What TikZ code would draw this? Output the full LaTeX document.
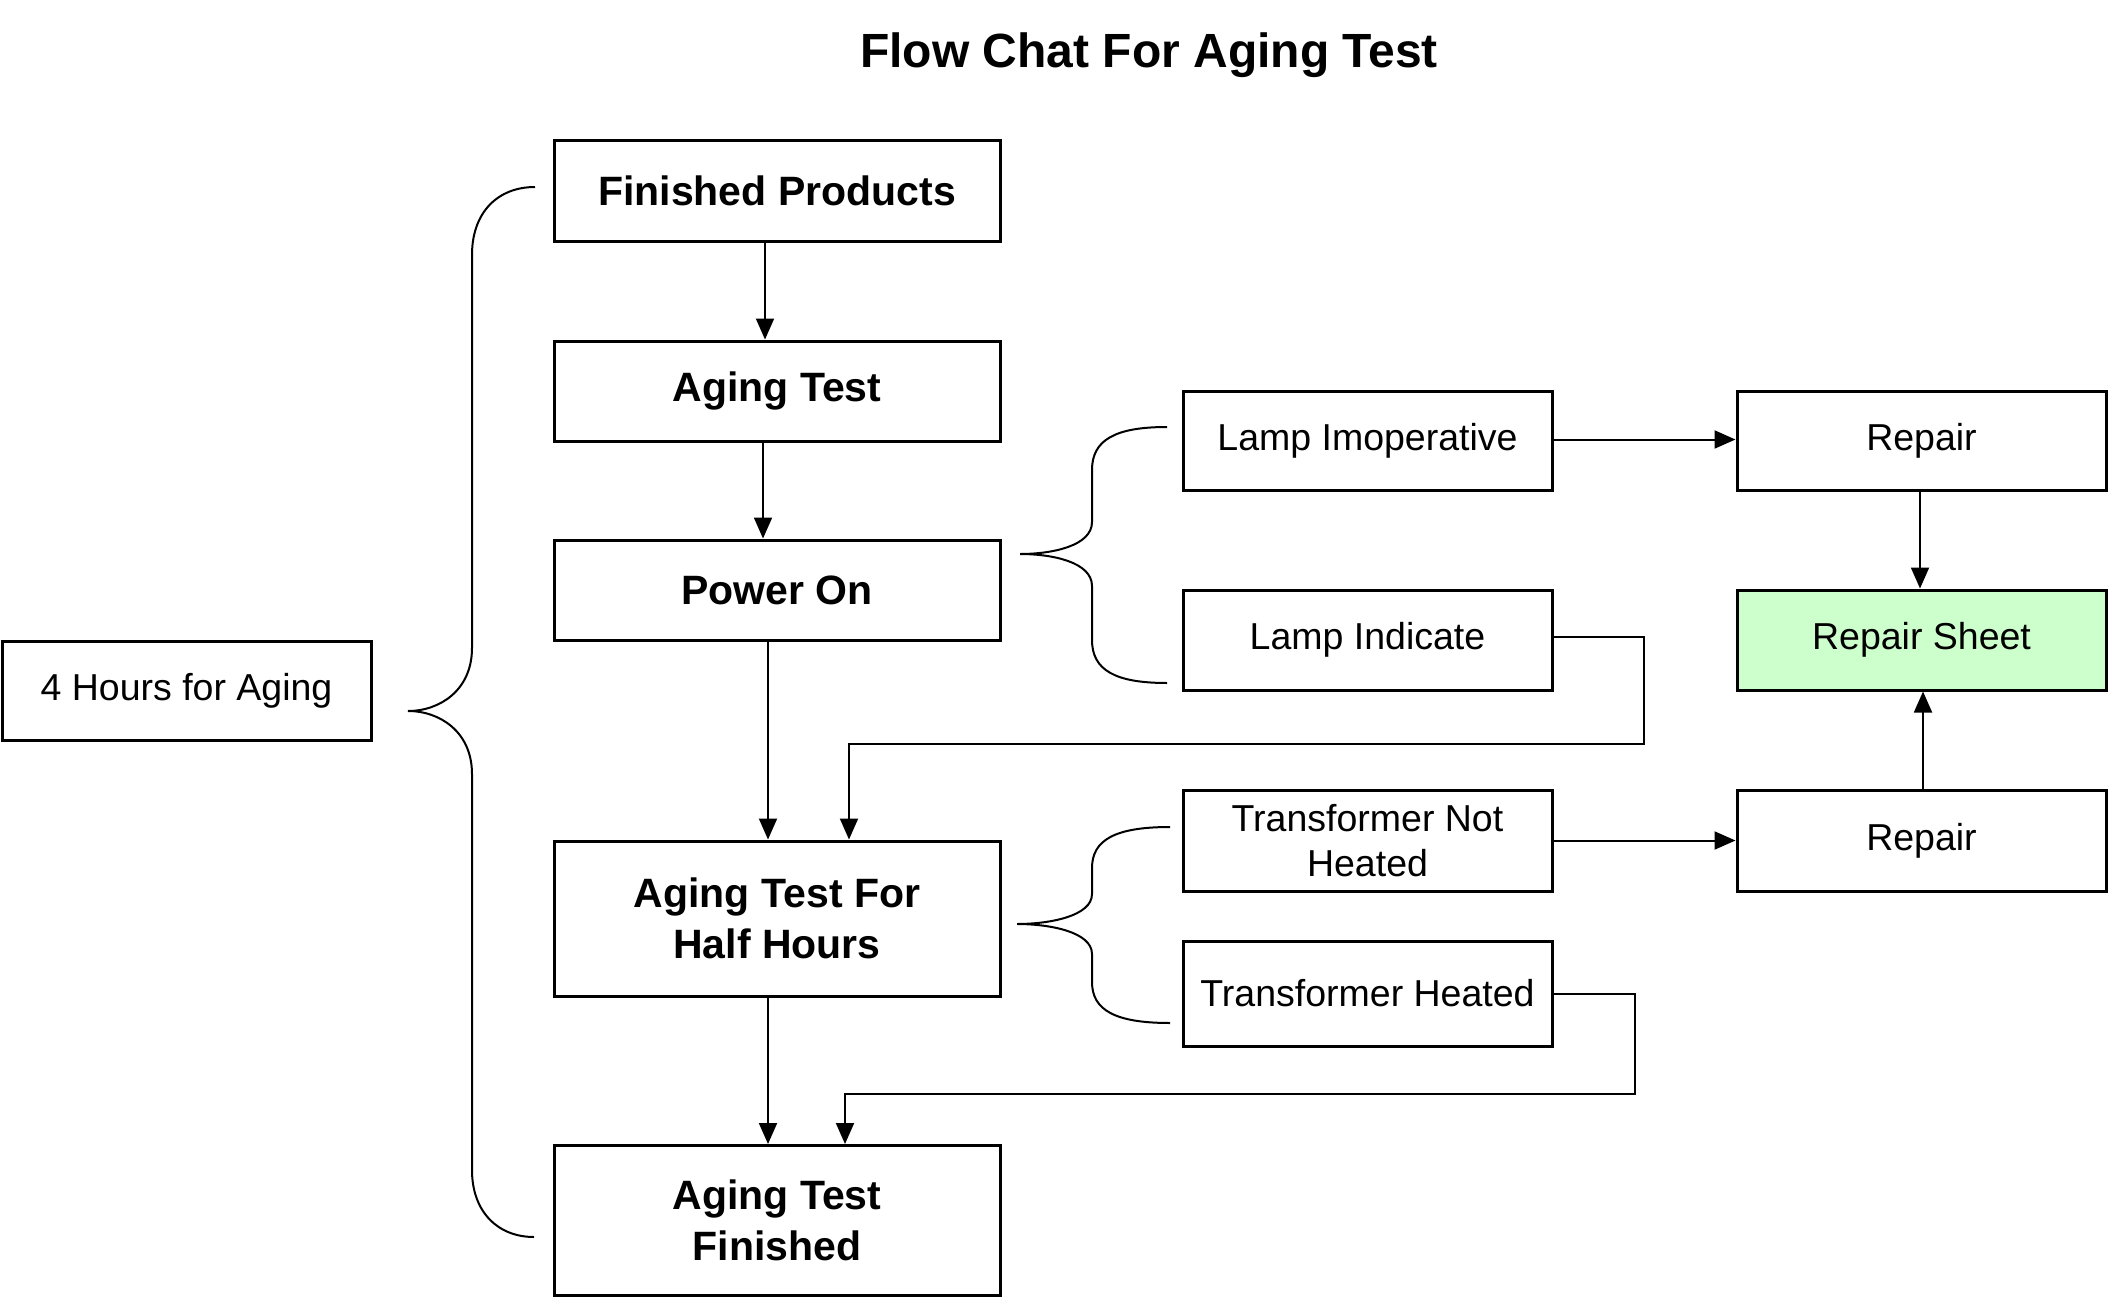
\documentclass[tikz,border=0pt]{standalone}
\usepackage{fontspec}
\setmainfont{Liberation Sans}
\usetikzlibrary{arrows.meta}
\begin{document}
\begin{tikzpicture}[x=1pt,y=-1pt,
 box/.style={draw,line width=3pt,rectangle,inner sep=0pt,align=center},
 bbox/.style={box,minimum width=446pt,font=\fontsize{41}{51}\selectfont\bfseries},
 rbox/.style={box,minimum width=369pt,font=\fontsize{37.5}{45}\selectfont},
 conn/.style={line width=2pt},
 arr/.style={conn,-{Triangle[length=21pt,width=18pt]}},
 bracepath/.style={line width=2pt}]
\useasboundingbox (0,0) rectangle (2113,1298);

\node[font=\fontsize{48}{58}\selectfont\bfseries] (title) at (1149,55) {Flow Chat For Aging Test};

% main column
\node[bbox,minimum height=101pt] (fp) at (777,190.5) {Finished Products};
\node[bbox,minimum height=100pt] (at) at (777,391) {Aging Test};
\node[bbox,minimum height=100pt] (po) at (777,590) {Power On};
\node[bbox,minimum height=155pt] (athh) at (777,918.5) {Aging Test For\\Half Hours};
\node[bbox,minimum height=150pt] (atf) at (777,1220.5) {Aging Test\\Finished};

\node[rbox,minimum height=99pt] (four) at (186.5,690.5) {4 Hours for Aging};

% middle column
\node[rbox,minimum height=99pt] (limp) at (1367.5,440.5) {Lamp Imoperative};
\node[rbox,minimum height=100pt] (lind) at (1367.5,640) {Lamp Indicate};
\node[rbox,minimum height=101pt] (tnh) at (1367.5,840.5) {Transformer Not\\Heated};
\node[rbox,minimum height=105pt] (th) at (1367.5,993.5) {Transformer Heated};

% right column
\node[rbox,minimum height=99pt] (rep1) at (1921.5,440.5) {Repair};
\node[rbox,minimum height=100pt,fill={rgb,255:red,204;green,255;blue,204}] (rs) at (1921.5,640) {Repair Sheet};
\node[rbox,minimum height=101pt] (rep2) at (1921.5,840.5) {Repair};

% connectors
\draw[arr] ([xshift=-12pt]fp.south) -- ([xshift=-12pt]at.north);
\draw[arr] ([xshift=-14pt]at.south) -- ([xshift=-14pt]po.north);
\draw[arr] ([xshift=-9pt]po.south) -- ([xshift=-9pt]athh.north);
\draw[arr] ([xshift=-9pt]athh.south) -- ([xshift=-9pt]atf.north);

\coordinate (j1) at (1644,744);
\coordinate (j2) at (1635,1094);
\draw[arr] ([yshift=3pt]lind.east) -| (j1) -| ([xshift=72pt]athh.north);
\draw[arr] (th.east) -| (j2) -| ([xshift=68pt]atf.north);

\draw[arr] ([yshift=1pt]limp.east) -- ([yshift=1pt]rep1.west);
\draw[arr] (tnh.east) -- (rep2.west);
\draw[arr] ([xshift=-1.5pt]rep1.south) -- ([xshift=-1.5pt]rs.north);
\draw[arr] ([xshift=1.5pt]rep2.north) -- ([xshift=1.5pt]rs.south);

% braces
\draw[bracepath] (535,187) .. controls (498,187) and (472,212) .. (472,255)
  -- (472,648) .. controls (472,690) and (440,711) .. (408,711)
  .. controls (440,711) and (472,732) .. (472,774)
  -- (472,1170) .. controls (472,1212) and (498,1237) .. (534,1237);

\draw[bracepath] (1167,427) .. controls (1115,427) and (1092,440) .. (1092,470)
  -- (1092,522) .. controls (1092,546) and (1052,554) .. (1020,554)
  .. controls (1052,554) and (1092,562) .. (1092,586)
  -- (1092,640) .. controls (1092,670) and (1115,683) .. (1167,683);

\draw[bracepath] (1170,827) .. controls (1115,827) and (1092,840) .. (1092,868)
  -- (1092,894) .. controls (1092,916) and (1050,924) .. (1017,924)
  .. controls (1050,924) and (1092,932) .. (1092,954)
  -- (1092,982) .. controls (1092,1010) and (1115,1023) .. (1170,1023);
\end{tikzpicture}
\end{document}
